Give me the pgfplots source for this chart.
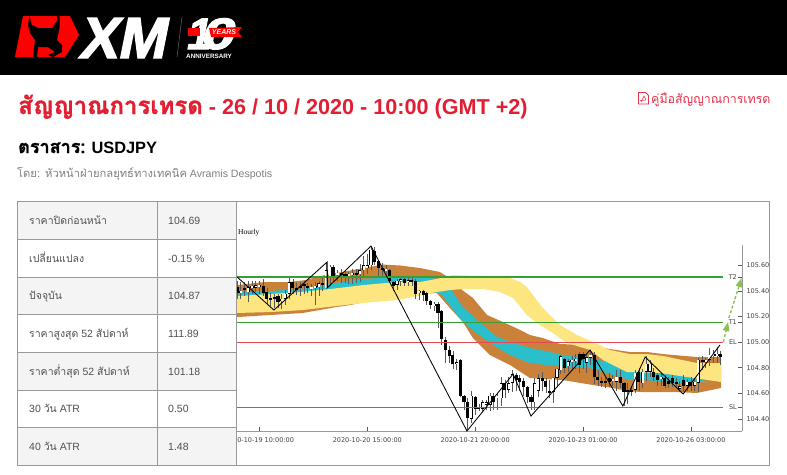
\documentclass[border=0pt]{standalone}
\usepackage{fontspec}
\usepackage{pgfplots}
\usepackage{pgfplotstable}
\pgfplotsset{compat=1.18}
\usetikzlibrary{arrows.meta}
\setmainfont{Liberation Sans}
\newfontfamily\tf[Script=Thai]{Loma}
\newfontfamily\tfb[Script=Thai,FakeBold=1.2]{Loma}
\newfontfamily\djv{DejaVu Sans}
\newfontfamily\hourlyfont{Liberation Serif}
\newfontfamily\xmf[FakeBold=2.5,FakeSlant=0.2]{Liberation Sans}
\definecolor{XMRed}{HTML}{E21F32}
\definecolor{PdfRed}{HTML}{E8304A}
\definecolor{Brown}{HTML}{CA823A}
\definecolor{Teal}{HTML}{2BBFCB}
\definecolor{Yell}{HTML}{FDE680}
\definecolor{LevelGreen}{HTML}{36A036}
\definecolor{LevelRed}{HTML}{E8474F}
\definecolor{Arrow}{HTML}{8CC152}
\definecolor{Frame}{HTML}{999999}
\definecolor{CellGrey}{HTML}{F4F4F4}
\definecolor{TextGrey}{HTML}{505050}

% i open close high low, i = 0 is 2020-10-19 10:00
\pgfplotstableread{
i o c h l
-6 105.43 105.38 105.48 105.34
-5 105.39 105.40 105.47 105.34
-4 105.42 105.41 105.47 105.36
-3 105.39 105.43 105.48 105.31
-2 105.43 105.432 105.48 105.38
-1 105.43 105.44 105.48 105.39
0 105.44 105.445 105.48 105.38
1 105.44 105.38 105.49 105.36
2 105.39 105.34 105.42 105.30
3 105.34 105.33 105.38 105.28
4 105.35 105.34 105.38 105.27
5 105.36 105.315 105.38 105.27
6 105.32 105.34 105.38 105.26
7 105.34 105.38 105.41 105.29
8 105.38 105.47 105.51 105.34
9 105.47 105.42 105.49 105.38
10 105.42 105.41 105.46 105.37
11 105.44 105.42 105.47 105.36
12 105.45 105.44 105.48 105.38
13 105.44 105.42 105.46 105.38
14 105.42 105.43 105.45 105.36
15 105.43 105.432 105.47 105.29
16 105.43 105.46 105.48 105.36
17 105.46 105.455 105.50 105.40
18 105.42 105.56 105.63 105.42
19 105.51 105.59 105.60 105.44
20 105.59 105.52 105.60 105.47
21 105.52 105.54 105.56 105.48
22 105.54 105.52 105.57 105.46
23 105.53 105.52 105.56 105.46
24 105.52 105.53 105.55 105.45
25 105.53 105.54 105.57 105.45
26 105.54 105.53 105.57 105.46
27 105.53 105.56 105.61 105.47
28 105.56 105.60 105.67 105.50
29 105.58 105.60 105.69 105.53
30 105.60 105.72 105.75 105.56
31 105.71 105.63 105.74 105.60
32 105.63 105.58 105.64 105.50
33 105.58 105.57 105.62 105.51
34 105.56 105.57 105.60 105.51
35 105.56 105.48 105.57 105.46
36 105.47 105.44 105.48 105.40
37 105.45 105.48 105.49 105.41
38 105.48 105.49 105.51 105.44
39 105.49 105.46 105.50 105.44
40 105.47 105.48 105.50 105.44
41 105.48 105.475 105.50 105.44
42 105.48 105.38 105.49 105.34
43 105.38 105.40 105.41 105.33
44 105.40 105.37 105.41 105.32
45 105.38 105.32 105.39 105.29
46 105.32 105.29 105.33 105.26
47 105.28 105.30 105.31 105.24
48 105.30 105.23 105.31 105.11
49 105.24 105.02 105.25 104.98
50 105.02 104.94 105.04 104.84
51 104.94 104.89 104.97 104.84
52 104.90 104.83 104.93 104.79
53 104.83 104.84 104.87 104.78
54 104.86 104.58 104.87 104.57
55 104.58 104.53 104.59 104.47
56 104.53 104.41 104.56 104.31
57 104.40 104.58 104.62 104.37
58 104.57 104.48 104.58 104.43
59 104.495 104.48 104.52 104.46
60 104.48 104.53 104.55 104.45
61 104.51 104.53 104.55 104.47
62 104.51 104.58 104.60 104.46
63 104.58 104.53 104.60 104.47
64 104.56 104.58 104.60 104.47
65 104.56 104.68 104.73 104.50
66 104.68 104.63 104.70 104.56
67 104.63 104.68 104.73 104.60
68 104.68 104.75 104.78 104.61
69 104.74 104.70 104.76 104.62
70 104.72 104.69 104.74 104.62
71 104.70 104.65 104.72 104.58
72 104.65 104.57 104.66 104.52
73 104.57 104.53 104.59 104.47
74 104.53 104.68 104.72 104.47
75 104.62 104.72 104.75 104.57
76 104.72 104.70 104.77 104.62
77 104.70 104.65 104.72 104.60
78 104.62 104.60 104.70 104.56
79 104.61 104.72 104.73 104.52
80 104.72 104.79 104.80 104.66
81 104.78 104.89 104.90 104.75
82 104.87 104.80 104.88 104.76
83 104.81 104.85 104.87 104.77
84 104.85 104.86 104.89 104.78
85 104.86 104.865 104.91 104.79
86 104.91 104.82 104.92 104.76
87 104.91 104.87 104.92 104.79
88 104.84 104.88 104.91 104.76
89 104.88 104.90 104.93 104.82
90 104.90 104.73 104.92 104.67
91 104.73 104.70 104.78 104.66
92 104.69 104.685 104.73 104.65
93 104.70 104.68 104.73 104.64
94 104.72 104.69 104.76 104.65
95 104.70 104.71 104.74 104.66
96 104.69 104.73 104.78 104.62
97 104.73 104.68 104.78 104.64
98 104.68 104.61 104.69 104.50
99 104.62 104.61 104.68 104.52
100 104.62 104.615 104.66 104.58
101 104.63 104.76 104.78 104.60
102 104.77 104.69 104.80 104.62
103 104.68 104.77 104.79 104.64
104 104.77 104.83 104.89 104.70
105 104.77 104.83 104.86 104.73
106 104.77 104.73 104.80 104.70
107 104.74 104.70 104.76 104.66
108 104.72 104.725 104.76 104.66
109 104.72 104.66 104.74 104.64
110 104.70 104.67 104.73 104.64
111 104.72 104.68 104.74 104.65
112 104.68 104.675 104.72 104.65
113 104.64 104.65 104.70 104.61
114 104.70 104.66 104.74 104.61
115 104.66 104.69 104.71 104.62
116 104.69 104.66 104.73 104.62
117 104.66 104.69 104.72 104.62
118 104.68 104.86 104.88 104.61
119 104.855 104.85 104.89 104.78
120 104.85 104.855 104.88 104.80
121 104.86 104.90 104.95 104.81
122 104.90 104.905 104.94 104.84
123 104.89 104.91 104.96 104.84
124 104.91 104.88 104.93 104.82
}\candles

\begin{document}
\begin{tikzpicture}[x=1pt,y=-1pt]
\path[use as bounding box,fill=white] (0,0) rectangle (787,474);

% header
\fill[black] (0,0) rectangle (787,75);
\fill[red] (23,16) -- (70,16) -- (79,35) -- (65,57) -- (15,57) -- cycle;
\fill[black] (29.5,16) -- (31.7,25) -- (38,28) -- (52,28) -- (57,21) -- (57,16) -- (59.5,16) -- (59.5,28) -- (57,40) -- (62,45) -- (62,52) -- (53,57) -- (48,55) -- (55,52) -- (48,47) -- (38,47) -- (37,57) -- (33,57) -- (35,40) -- (30,33) -- (28,25) -- cycle;
\node[anchor=base west,inner sep=0,white,font=\xmf\fontsize{58}{58}\selectfont\bfseries] at (78,58) {XM};
\draw[gray!60!black,line width=0.7pt] (182,17) -- (177,57);
\node[anchor=base west,inner sep=0,white,font=\xmf\fontsize{44}{44}\selectfont\bfseries] at (185,49) {1};
\node[anchor=base west,inner sep=0,white,font=\xmf\fontsize{44}{44}\selectfont\bfseries,xscale=1.35] at (199,49) {0};
\fill[red] (188,28) -- (200,28) -- (200,36) -- (188,36) -- cycle;
\fill[red] (209,28) -- (242,27) -- (238,32) -- (242,37) -- (211,37) -- cycle;
\node[anchor=center,inner sep=0,white,font=\fontsize{7}{7}\selectfont\bfseries\itshape] at (224,32.5) {YEARS};
\node[anchor=base west,inner sep=0,white,font=\fontsize{6.3}{6}\selectfont\bfseries] at (186,58.5) {ANNIVERSARY};

% heading
\node[anchor=base west,inner sep=0,XMRed,font=\fontsize{21.6}{24}\selectfont\bfseries] at (18,114) {{\tfb\fontsize{24}{24}\selectfont สัญญาณการเทรด} - 26 / 10 / 2020 - 10:00 (GMT +2)};
\node[anchor=base west,inner sep=0,black,font=\fontsize{16.4}{18}\selectfont\bfseries] at (18,153) {{\tfb\fontsize{18}{18}\selectfont ตราสาร:} USDJPY};
\node[anchor=base west,inner sep=0,gray,font=\fontsize{10.6}{12}\selectfont] at (17,177) {{\tf\fontsize{11.2}{12}\selectfont โดย: หัวหน้าฝ่ายกลยุทธ์ทางเทคนิค} Avramis Despotis};
\draw[PdfRed,line width=0.8pt] (638.5,92.5) -- (645.5,92.5) -- (648.5,95.5) -- (648.5,104) -- (638.5,104) -- cycle;
\draw[PdfRed,line width=0.5pt] (641,102) -- (644,96) -- (646,100) -- (640,100.5);
\node[anchor=base west,inner sep=0,PdfRed,font=\fontsize{12.4}{13}\selectfont\tf] at (651,103) {คู่มือสัญญาณการเทรด};

% chart
\begin{axis}[
  at={(237pt,-431pt)},anchor=south west,
  scale only axis,width=505pt,height=186pt,
  xmin=-6.02,xmax=129.73,ymin=104.305,ymax=105.758,
  axis x line=bottom,axis y line=right,
  axis line style={-,draw=Frame,line width=0.7pt},
  tick align=inside,
  major tick length=4pt,
  tick style={draw=gray!70!black,line width=0.5pt},
  xtick={0,29,58,87,116},
  xticklabels={2020-10-19 10:00:00,2020-10-20 15:00:00,2020-10-21 20:00:00,2020-10-23 01:00:00,2020-10-26 03:00:00},
  ytick={104.4,104.6,104.8,105,105.2,105.4,105.6},
  extra y ticks={105.508,105.152,104.492},
  extra y tick labels={},
  scaled ticks=false,
  tick label style={font=\djv\fontsize{6.5}{8}\selectfont,text=black!75},
  x tick label style={yshift=-3.5pt},
  y tick label style={/pgf/number format/fixed,/pgf/number format/fixed zerofill,/pgf/number format/precision=2,/pgf/number format/assume math mode=true,xshift=1pt},
]
% ribbon, brown under teal under yellow
\addplot[fill=Brown,draw=none,forget plot] coordinates {
(-6,105.445) (1.5,105.469) (8.2,105.469) (12.3,105.484) (17.6,105.523) (23,105.551) (29.5,105.586) (33.2,105.605) (37.8,105.598) (43.2,105.578) (48.5,105.547) (50.7,105.508) (54.5,105.406) (57.4,105.344) (61.2,105.211) (65.5,105.156) (70.1,105.094) (72.7,105.055) (76.2,105.031) (80.8,104.984) (89.7,104.977) (94.2,104.945) (99.6,104.922) (104.2,104.922) (108.5,104.906) (117.6,104.883) (124.1,104.883)
(124.1,104.641) (117.6,104.602) (112.3,104.609) (103.1,104.609) (98.8,104.617) (95.1,104.641) (89.7,104.664) (81.6,104.703) (72.7,104.719) (67.4,104.82) (62,104.898) (57.4,105.031) (54.7,105.156) (51.2,105.266) (47.7,105.383) (37.8,105.367) (24.4,105.289) (20.6,105.273) (11.7,105.227) (2.8,105.211) (-6,105.195)
} -- cycle;
\addplot[fill=Teal,draw=none,forget plot] coordinates {
(-6,105.391) (2.8,105.398) (10.9,105.414) (20.6,105.461) (27.9,105.492) (37,105.508) (45.9,105.508) (49.9,105.461) (51.8,105.398) (54.7,105.273) (58.5,105.172) (63.9,105.039) (70.1,104.977) (72.7,104.953) (78.1,104.922) (81.6,104.898) (88.9,104.875) (96.9,104.82) (107.7,104.781) (121.1,104.688)
(111.2,104.68) (104.2,104.703) (99.6,104.703) (95.1,104.742) (88.9,104.797) (82.7,104.805) (77.3,104.82) (72.7,104.836) (67.4,104.898) (62,104.992) (56.6,105.109) (53.1,105.211) (49.1,105.367) (43.2,105.445) (37,105.445) (27.9,105.422) (20.6,105.398) (10.9,105.367) (2.8,105.359) (-6,105.352)
} -- cycle;
\addplot[fill=Yell,draw=none,forget plot] coordinates {
(-6,105.359) (2.8,105.375) (10.9,105.391) (19,105.414) (27.9,105.445) (37,105.469) (43.2,105.469) (47.5,105.492) (52,105.523) (61.2,105.516) (67.4,105.5) (70.1,105.469) (71.9,105.43) (76.2,105.266) (80.8,105.133) (85.4,105.055) (89.7,105) (94.2,104.938) (99.6,104.906) (104.2,104.906) (108.5,104.891) (117.6,104.836) (124.1,104.836)
(124.1,104.688) (114.9,104.727) (107.7,104.758) (98.8,104.766) (92.4,104.859) (88.9,104.938) (82.7,104.992) (78.9,105.07) (74.6,105.148) (71.9,105.211) (68.2,105.344) (64.7,105.391) (60.1,105.414) (54.5,105.414) (51.2,105.406) (47.7,105.391) (41.3,105.352) (37,105.328) (27.9,105.305) (20.6,105.281) (11.7,105.25) (2.8,105.234) (-6,105.227)
} -- cycle;
% wicks
\addplot[draw=none,mark=none,forget plot,error bars/.cd,y dir=both,y explicit,error mark=none,
  error bar style={draw=gray!70!black,line width=0.65pt}]
  table[x=i,y expr={(\thisrow{h}+\thisrow{l})/2},y error expr={(\thisrow{h}-\thisrow{l})/2}] {\candles};
% bodies
\addplot[draw=none,mark=none,forget plot,error bars/.cd,y dir=both,y explicit,error mark=none,
  error bar style={draw=black,line width=3.1pt}]
  table[x=i,y expr={(\thisrow{o}+\thisrow{c})/2},y error expr={max(abs(\thisrow{c}-\thisrow{o})/2,0.008)}] {\candles};
% up bodies get a white inside
\addplot[draw=none,mark=none,forget plot,
  y filter/.expression={\thisrow{c}>\thisrow{o} ? y : nan},
  error bars/.cd,y dir=both,y explicit,error mark=none,
  error bar style={draw=white,line width=2.1pt}]
  table[x=i,y expr={(\thisrow{o}+\thisrow{c})/2},y error expr={max(abs(\thisrow{c}-\thisrow{o})/2-0.004,0.004)}] {\candles};
% levels
\addplot[LevelGreen,line width=1.05pt,forget plot] coordinates {(-6.02,105.508) (124.7,105.508)};
\addplot[LevelGreen,line width=1.05pt,forget plot] coordinates {(-6.02,105.152) (124.7,105.152)};
\addplot[LevelRed,line width=1.05pt,forget plot] coordinates {(-6.02,105) (124.7,105)};
\addplot[LevelGreen,line width=1.05pt,forget plot] coordinates {(-6.02,104.492) (124.7,104.492)};
% zigzag
\addplot[black,line width=0.85pt,forget plot] coordinates {
(-6,105.508) (3.9,105.25) (18.2,105.625) (18.2,105.422) (30,105.75) (55.8,104.305) (68.2,104.75) (73,104.422) (88.9,104.938) (97.7,104.5) (103.7,104.883) (113.9,104.594) (123.8,104.977)};
% target arrows
\addplot[Arrow,line width=1.4pt,dash pattern=on 3pt off 2pt,-{Triangle[length=9pt,width=6.5pt]},forget plot] coordinates {(124.7,105) (126,105.156)};
\addplot[Arrow,line width=1.4pt,dash pattern=on 3pt off 2pt,-{Triangle[length=9pt,width=6.5pt]},forget plot] coordinates {(126.2,105.188) (129.6,105.5)};
\node[anchor=east,inner sep=0,text=black!75,font=\djv\fontsize{6.5}{8}\selectfont] at (axis cs:128.4,105.508) {T2};
\node[anchor=east,inner sep=0,text=black!75,font=\djv\fontsize{6.5}{8}\selectfont] at (axis cs:128.4,105.152) {T1};
\node[anchor=east,inner sep=0,text=black!75,font=\djv\fontsize{6.5}{8}\selectfont] at (axis cs:128.4,105) {EL};
\node[anchor=east,inner sep=0,text=black!75,font=\djv\fontsize{6.5}{8}\selectfont] at (axis cs:128.4,104.492) {SL};
\end{axis}
\node[anchor=west,inner sep=0,text=black,font=\hourlyfont\fontsize{7.5}{8}\selectfont] at (238,232.5) {Hourly};

% info table, over the clipped first date label
\fill[white] (0,195) rectangle (236.5,474);
\fill[CellGrey] (17,201.5) rectangle (236.5,239.3);
\fill[CellGrey] (17,277.3) rectangle (236.5,314.3);
\fill[CellGrey] (17,352.3) rectangle (236.5,390.3);
\fill[CellGrey] (17,427.3) rectangle (236.5,465);
\draw[Frame,line width=0.9pt] (17.5,201.5) rectangle (769.5,465.3);
\draw[Frame,line width=0.9pt] (157.3,201.5) -- (157.3,465.3);
\draw[Frame,line width=0.9pt] (236.7,201.5) -- (236.7,465.3);
\foreach \yy in {239.3,277.3,314.3,352.3,390.3,427.3} {\draw[Frame,line width=0.9pt] (17.5,\yy) -- (236.7,\yy);}
\tikzset{cell/.style={anchor=mid west,inner sep=0,text=TextGrey,font=\fontsize{10.5}{12}\selectfont}}
\node[cell] at (29,221.5) {\tf ราคาปิดก่อนหน้า};
\node[cell] at (29,259.5) {\tf เปลี่ยนแปลง};
\node[cell] at (29,297) {\tf ปัจจุบัน};
\node[cell] at (29,334.5) {{\tf ราคาสูงสุด} 52 {\tf สัปดาห์}};
\node[cell] at (29,372.5) {{\tf ราคาต่ำสุด} 52 {\tf สัปดาห์}};
\node[cell] at (29,410) {30 {\tf วัน} ATR};
\node[cell] at (29,447.5) {40 {\tf วัน} ATR};
\node[cell] at (168,221.5) {104.69};
\node[cell] at (168,259.5) {-0.15 \%};
\node[cell] at (168,297) {104.87};
\node[cell] at (168,334.5) {111.89};
\node[cell] at (168,372.5) {101.18};
\node[cell] at (168,410) {0.50};
\node[cell] at (168,447.5) {1.48};
\end{tikzpicture}
\end{document}
